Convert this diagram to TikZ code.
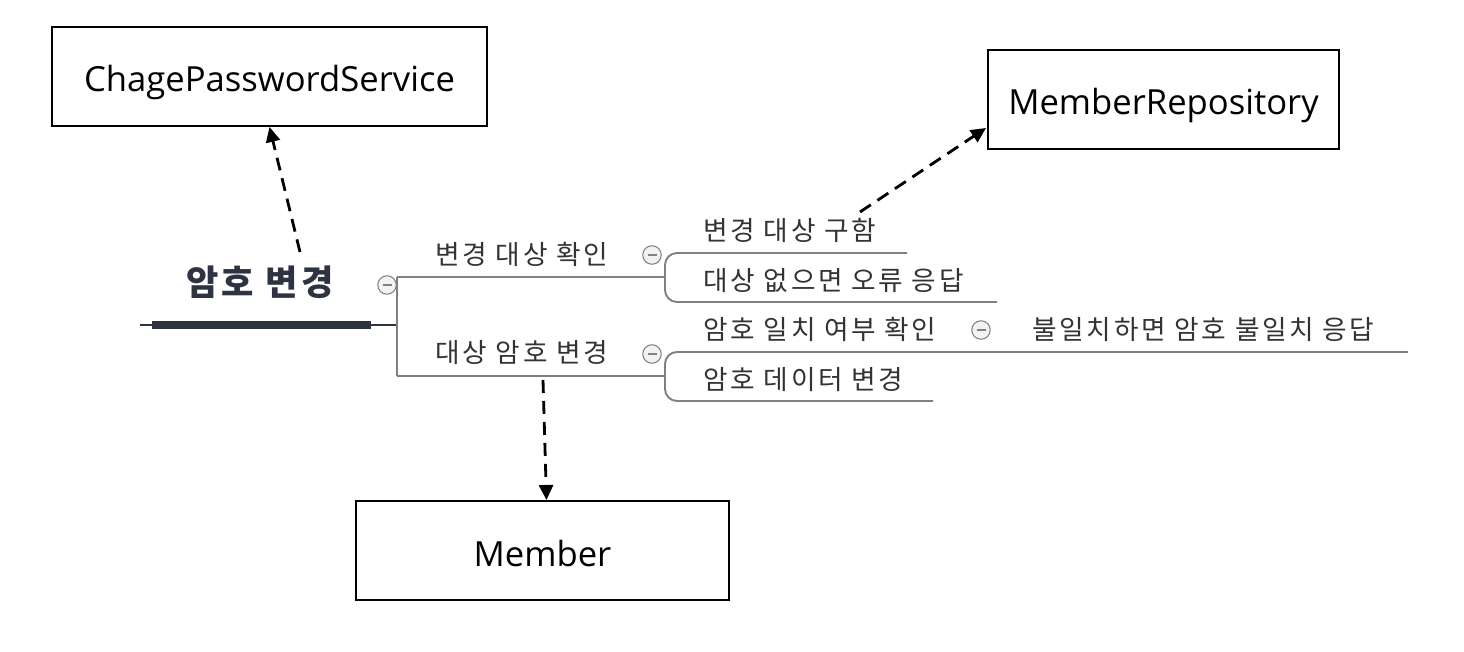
\documentclass[tikz,border=0pt]{standalone}
\usepackage{fontspec}
\setmainfont{Noto Sans CJK KR}
\newfontfamily\boxfont{Open Sans}
\newfontfamily\mapfont[LetterSpace=10]{Noto Sans CJK KR}
\usetikzlibrary{arrows.meta}

\definecolor{mapgray}{HTML}{808080}
\definecolor{rootdark}{HTML}{2E3342}

\begin{document}
\begin{tikzpicture}[
    x=0.02cm, y=-0.02cm,
    classbox/.style={draw, line width=1.1pt, minimum width=8.7cm, minimum height=1.98cm, text height=0.7cm, text depth=0.08cm, font=\boxfont\fontsize{19.7}{22}\selectfont},
    maplabel/.style={anchor=west, inner sep=0pt, text=black!80, font=\mapfont\fontsize{15.2}{17}\selectfont},
    mapline/.style={mapgray, line width=1.1pt},
    depend/.style={line width=1.6pt, dash pattern=on 0.26cm off 0.16cm, -{Triangle[length=0.3cm, width=0.28cm]}},
    fold/.style={circle, draw=mapgray, fill=black!5, line width=0.6pt, minimum size=0.37cm, inner sep=0pt}
]
    \useasboundingbox (0,0) rectangle (1464,652);

    % Classes
    \node[classbox] (svc) at (269.5,76.5) {ChagePasswordService};
    \node[classbox, minimum width=7.02cm] (repo) at (1163.5,99.5) {MemberRepository};
    \node[classbox, minimum width=7.46cm] (member) at (542.5,550.5) {Member};

    % Root topic
    \node[inner sep=0pt, text=rootdark, font=\mapfont\fontsize{20}{22}\selectfont\bfseries] (root) at (260,282) {암호 변경};
    \coordinate (rl) at (140,325);
    \coordinate (rr) at (397,325);
    \draw[rootdark, line width=0.6pt] (rl) -- (rr);
    \draw[rootdark, line width=4.5pt] (152,325) -- (371,325);
    \node[fold] (f0) at (387,285) {};

    % Main branches
    \coordinate (b1) at (397,277);
    \coordinate (b2) at (397,376);
    \coordinate (e1) at (665,277);
    \coordinate (e2) at (665,376);
    \draw[mapline] (b1) -- (b2);
    \draw[mapline] (b1) -- (e1);
    \draw[mapline] (b2) -- (e2);
    \node[maplabel] (check) at (435,254) {변경 대상 확인};
    \node[maplabel] (change) at (435,352) {대상 암호 변경};
    \node[fold] (f1) at (652,255) {};
    \node[fold] (f2) at (652,354) {};

    % Children of 변경 대상 확인
    \draw[mapline, rounded corners=0.24cm] (907,253) -- (665,253) -- (665,302) -- (997,302);
    \node[maplabel] (find) at (703,230) {변경 대상 구함};
    \node[maplabel] (nofind) at (703,280) {대상 없으면 오류 응답};

    % Children of 대상 암호 변경
    \draw[mapline, rounded corners=0.24cm] (1408,352) -- (665,352) -- (665,401) -- (933,401);
    \node[maplabel] (match) at (703,329) {암호 일치 여부 확인};
    \node[fold] (f3) at (981,330) {};
    \node[maplabel] (nomatch) at (1032,329) {불일치하면 암호 불일치 응답};
    \node[maplabel] (update) at (703,380) {암호 데이터 변경};

    % minus signs in the fold buttons
    \foreach \f in {f0,f1,f2,f3}
        \draw[mapgray, line width=0.6pt] ([xshift=-0.09cm]\f.center) -- ([xshift=0.09cm]\f.center);

    % Dependencies
    \coordinate (s1) at (300,252);
    \coordinate (s2) at (860,212);
    \coordinate (s3) at (543,380);
    \coordinate (t2) at (986,128);
    \draw[depend] (s1) -- (svc.south);
    \draw[depend] (s2) -- (t2);
    \draw[depend] (s3) -- ([xshift=0.08cm]member.north);
\end{tikzpicture}
\end{document}
